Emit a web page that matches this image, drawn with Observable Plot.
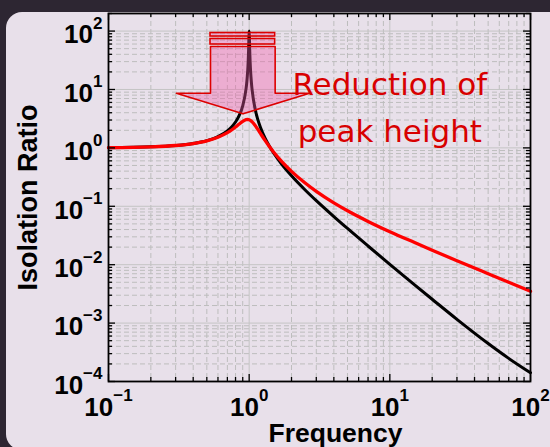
<!DOCTYPE html>
<html><head><meta charset="utf-8">
<script src="https://cdn.jsdelivr.net/npm/d3@7"></script>
<script src="https://cdn.jsdelivr.net/npm/@observablehq/plot@0.6"></script>
<style>
html,body{margin:0;padding:0;background:#2d2632;width:550px;height:447px;overflow:hidden;}
#panel{position:absolute;left:6px;top:12px;width:580px;height:438px;background:#e8e0ea;border-radius:16px;}
#chart{position:absolute;left:0;top:0;}
</style></head><body><div id="panel"></div><div id="chart"></div>
<script>
// ---- data ----
const freqBlack = [0.1,0.2,0.3,0.4,0.5,0.6,0.7,0.75,0.8,0.85,0.9,0.95,0.96,0.97,0.98,0.985,0.99,0.995,1.0,1.005,1.01,1.015,1.02,1.03,1.04,1.05,1.1,1.15,1.2,1.3,1.4,1.5,1.7,2,2.5,3,4,5,7,10,15,20,30,50,70,100];
const ratioBlack = [1.010,1.042,1.099,1.190,1.333,1.563,1.961,2.286,2.778,3.604,5.263,10.25,12.66,16.9,24.5,31.9,45.0,71.0,100,70.4,44.4,31.4,24.0,16.4,12.25,9.76,4.76,3.10,2.273,1.449,1.042,0.800,0.529,0.333,0.1905,0.125,0.0667,0.0417,0.0209,0.01015,0.00451,0.00256,0.00116,0.000447,0.000249,0.000141];
const freqRed = [0.1,0.2,0.3,0.4,0.5,0.6,0.7,0.75,0.8,0.85,0.9,0.95,0.975,1.0,1.025,1.05,1.1,1.15,1.2,1.3,1.4,1.5,1.7,2,2.5,3,4,5,7,10,15,20,30,50,70,100];
const ratioRed = [1.010,1.042,1.098,1.186,1.318,1.517,1.820,2.026,2.277,2.564,2.850,3.041,3.064,3.027,2.932,2.792,2.443,2.090,1.783,1.329,1.033,0.833,0.587,0.396,0.2497,0.1797,0.1142,0.0838,0.0551,0.0367,0.0239,0.0177,0.0117,0.00701,0.00501,0.00350];

const majorX = [0.1,1,10,100];
const xTickLabels = ["10^\u22121","10^0","10^1","10^2"];
const majorY = [1e-4,1e-3,1e-2,1e-1,1,10,100];
const yTickLabels = ["10^\u22124","10^\u22123","10^\u22122","10^\u22121","10^0","10^1","10^2"];
const minorMult = [2,3,4,5,6,7,8,9];

const arrowFreq  = [0.904,2.685,1.53,1.53,0.531,0.531,0.304,0.904];
const arrowRatio = [3.83,8.63,8.63,54.4,54.4,8.63,8.63,3.83];
const stripeFreq = [0.531,1.53];
const stripeLow  = [58.9,80.7];
const stripeHigh = [73.2,92.7];
const noteText = "Reduction of\npeak height";
const noteAt = {f: 10, r: 1.24};

const xLabel = "Frequency";
const yLabel = "Isolation Ratio";

// ---- build ----
const black = freqBlack.map((f,i)=>({f, r: ratioBlack[i]}));
const red = freqRed.map((f,i)=>({f, r: ratioRed[i]}));
const arrow = arrowFreq.map((f,i)=>({f, r: arrowRatio[i]}));
const stripes = stripeLow.map((lo,i)=>({x1: stripeFreq[0], x2: stripeFreq[1], y1: lo, y2: stripeHigh[i]}));
const minorX = majorX.slice(0,-1).flatMap(m => minorMult.map(k => m*k));
const minorY = majorY.flatMap(m => minorMult.map(k => m*k)).filter(v => v <= 200);

const W = 550, H = 447, mL = 108, mR = 20, mT = 13, mB = 66;
const innerW = W - mL - mR, innerH = H - mT - mB;
const axisFont = "Liberation Sans, Arial, Helvetica, sans-serif";

const plot = Plot.plot({
  width: W, height: H,
  marginLeft: mL, marginRight: mR, marginTop: mT, marginBottom: mB,
  style: {background: "transparent", fontFamily: axisFont, overflow: "visible"},
  x: {type: "log", domain: [0.1, 100]},
  y: {type: "log", domain: [1e-4, 200]},
  marks: [
    Plot.ruleX(minorX, {x: d=>d, stroke: "#bdbdbd", strokeWidth: 1, strokeDasharray: "5,3"}),
    Plot.ruleY(minorY, {y: d=>d, stroke: "#bdbdbd", strokeWidth: 1, strokeDasharray: "5,3"}),
    Plot.ruleX(majorX, {x: d=>d, stroke: "#c4c4c4", strokeWidth: 1}),
    Plot.ruleY(majorY, {y: d=>d, stroke: "#c4c4c4", strokeWidth: 1}),
    Plot.line(black, {x: "f", y: "r", stroke: "black", strokeWidth: 3, curve: "monotone-x"}),
    Plot.line(red, {x: "f", y: "r", stroke: "#ff0000", strokeWidth: 3.3, curve: "monotone-x"}),
    Plot.rect(stripes, {x1: "x1", x2: "x2", y1: "y1", y2: "y2", fill: "#f25aa8", fillOpacity: 0.35, stroke: "#dd0000", strokeWidth: 1.6}),
    Plot.line(arrow, {x: "f", y: "r", fill: "#f25aa8", fillOpacity: 0.38, stroke: "#dd0000", strokeWidth: 1.6, curve: "linear"}),
    Plot.text([noteText], {x: noteAt.f, y: noteAt.r, text: d=>d, lineAnchor: "bottom", lineHeight: 1.52, textAnchor: "middle", fontSize: 31, fontFamily: "DejaVu Sans, sans-serif", fill: "#d80000"}),
    // inward ticks on all sides
    Plot.tickX(majorX, {x: d=>d, insetTop: innerH - 7, stroke: "black", strokeWidth: 1.3}),
    Plot.tickX(majorX, {x: d=>d, insetBottom: innerH - 7, stroke: "black", strokeWidth: 1.3}),
    Plot.tickX(minorX, {x: d=>d, insetTop: innerH - 4, stroke: "black", strokeWidth: 1.3}),
    Plot.tickX(minorX, {x: d=>d, insetBottom: innerH - 4, stroke: "black", strokeWidth: 1.3}),
    Plot.tickY(majorY, {y: d=>d, insetRight: innerW - 7, stroke: "black", strokeWidth: 1.3}),
    Plot.tickY(majorY, {y: d=>d, insetLeft: innerW - 7, stroke: "black", strokeWidth: 1.3}),
    Plot.tickY(minorY, {y: d=>d, insetRight: innerW - 4, stroke: "black", strokeWidth: 1.3}),
    Plot.tickY(minorY, {y: d=>d, insetLeft: innerW - 4, stroke: "black", strokeWidth: 1.3}),
    Plot.frame({stroke: "black", strokeWidth: 1.8}),
    Plot.axisX({anchor: "bottom", ticks: majorX, tickSize: 0, tickPadding: 16, tickFormat: d => xTickLabels[majorX.indexOf(d)], fontSize: 26, fontWeight: "bold", fill: "black", label: null}),
    Plot.axisY({anchor: "left", ticks: majorY, tickSize: 0, tickPadding: 6, dy: 4, tickFormat: d => yTickLabels[majorY.indexOf(d)], fontSize: 26, fontWeight: "bold", fill: "black", label: null}),
    Plot.text([xLabel], {frameAnchor: "bottom", text: d=>d, dx: 16, dy: 60, lineAnchor: "bottom", fontSize: 26.5, fontWeight: "bold", fill: "black", textAnchor: "middle"}),
    Plot.text([yLabel], {frameAnchor: "left", text: d=>d, rotate: -90, dx: -72, lineAnchor: "bottom", fontSize: 27, fontWeight: "bold", fill: "black", textAnchor: "middle"})
  ]
});

// superscript exponents in tick labels
plot.querySelectorAll("text").forEach(t => {
  const s = t.textContent;
  if (s.includes("^")) {
    const [b, e] = s.split("^");
    t.textContent = b;
    const ts = document.createElementNS("http://www.w3.org/2000/svg", "tspan");
    ts.setAttribute("font-size", "17");
    ts.setAttribute("dy", "-14.5");
    ts.textContent = e;
    t.appendChild(ts);
  }
});
document.getElementById("chart").appendChild(plot);
</script></body></html>
